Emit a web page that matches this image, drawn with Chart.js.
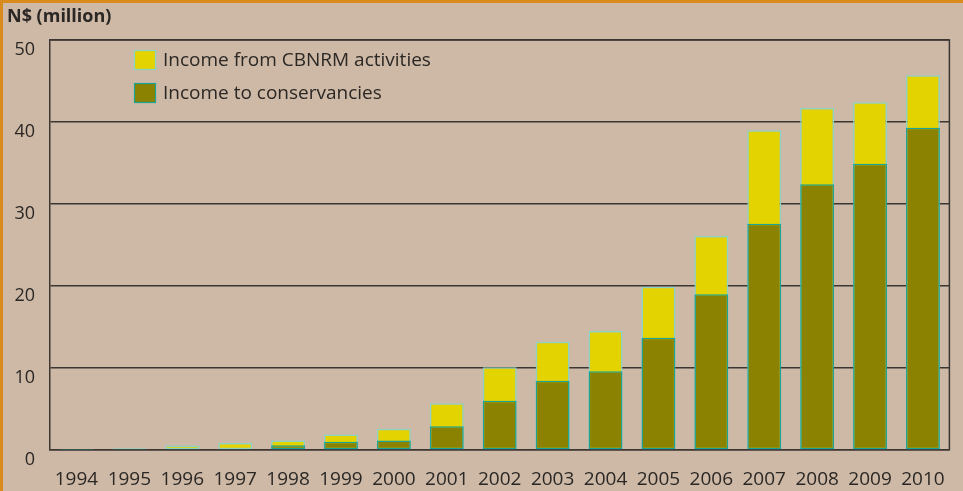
<!DOCTYPE html>
<html>
<head>
<meta charset="utf-8">
<script src="https://cdn.jsdelivr.net/npm/chart.js@4"></script>
<style>
  html, body { margin: 0; padding: 0; background: #cdb9a6; }
  #wrap { width: 963px; height: 491px; }
</style>
</head>
<body>
<div id="wrap"><canvas id="myChart" width="963" height="491"></canvas></div>
<script>
// data (N$ million)
var years = ['1994','1995','1996','1997','1998','1999','2000','2001','2002','2003','2004','2005','2006','2007','2008','2009','2010']
var totalCbnrm = [0.1, 0.2, 0.55, 0.85, 1.15, 1.9, 2.6, 5.7, 10.1, 13.2, 14.5, 19.9, 26.1, 39.0, 41.7, 42.4, 45.7]
var toConservancies = [0.02, 0.05, 0.1, 0.1, 0.57, 1.0, 1.15, 2.9, 6.0, 8.45, 9.6, 13.7, 19.0, 27.6, 32.4, 34.9, 39.3]
var yTicks = [0, 10, 20, 30, 40, 50]

var bgColor = '#cdb9a6'
var textColor = '#2b2724'
var lineColor = '#3c3733'

// background, frame, title, legend and plot border
var decor = {
    id: 'decor',
    beforeDraw: function(chart){
        var c = chart.ctx
        c.save()
        c.fillStyle = bgColor
        c.fillRect(0, 0, chart.width, chart.height)
        c.fillStyle = '#d98a1c'
        c.fillRect(0, 0, chart.width, 3)
        c.fillRect(0, 0, 3, chart.height)
        c.restore()
    },
    afterDraw: function(chart){
        var c = chart.ctx
        var a = chart.chartArea
        c.save()
        // plot border top / right
        c.strokeStyle = lineColor
        c.lineWidth = 1.5
        c.beginPath()
        c.moveTo(a.left, a.top)
        c.lineTo(a.right, a.top)
        c.lineTo(a.right, a.bottom)
        c.stroke()
        // title
        c.fillStyle = textColor
        c.font = 'bold 18px "Open Sans"'
        c.textBaseline = 'middle'
        c.textAlign = 'left'
        c.fillText('N$ (million)', 7, 17)
        // legend (yellow first, then olive)
        var items = [chart.data.datasets[1], chart.data.datasets[0]]
        c.font = '19px "Open Sans"'
        items.forEach(function(ds, i){
            var y = 50 + i * 33
            c.fillStyle = ds.backgroundColor
            c.fillRect(134, y, 22, 20)
            c.strokeStyle = ds.borderColor
            c.lineWidth = 1.2
            c.strokeRect(134.5, y + 0.5, 21, 19)
            c.fillStyle = textColor
            c.fillText(ds.label, 163, y + 11)
        })
        c.restore()
    }
}

const ctx = document.getElementById('myChart').getContext('2d')
const myChart = new Chart(ctx, {
    type: 'bar',
    data: {
        labels: years,
        datasets: [{
            //Conservancies (drawn on top)
            label: 'Income to conservancies',
            data: toConservancies,
            backgroundColor: '#8a8200',
            borderColor: '#1aa396',
            borderWidth: 1.5,
            borderSkipped: false,
            order: 1,
        },
        {
            //Total CBNRM (drawn behind)
            label: 'Income from CBNRM activities',
            data: totalCbnrm,
            backgroundColor: '#e3d300',
            borderColor: '#8ad4c4',
            borderWidth: 1.5,
            borderSkipped: false,
            order: 2,
        }]
    },
    options: {
        responsive: false,
        animation: false,
        layout: { padding: { top: 40, right: 11, left: 0, bottom: 0 } },
        plugins: {
            legend: { display: false },
            tooltip: { enabled: false },
            title: { display: false }
        },
        datasets: {
            bar: { categoryPercentage: 1, barPercentage: 0.64 }
        },
        scales: {
            x: {
                stacked: true,
                grid: { display: false, drawTicks: false },
                border: { display: true, color: lineColor, width: 1.5 },
                ticks: {
                    color: textColor,
                    font: { family: 'Open Sans', size: 19 },
                    padding: 18,
                    maxRotation: 0,
                    autoSkip: false
                },
                afterFit: function(s){ s.height = 41 }
            },
            y: {
                stacked: false,
                min: 0,
                max: 50,
                afterBuildTicks: function(s){ s.ticks = yTicks.map(function(v){ return { value: v } }) },
                grid: { color: lineColor, lineWidth: 1.5, drawTicks: false },
                border: { display: true, color: lineColor, width: 1.5 },
                ticks: {
                    color: textColor,
                    font: { family: 'Open Sans', size: 18 },
                    padding: 15,
                    labelOffset: 10
                },
                afterFit: function(s){ s.width = 50 }
            }
        }
    },
    plugins: [decor]
})
</script>
</body>
</html>
